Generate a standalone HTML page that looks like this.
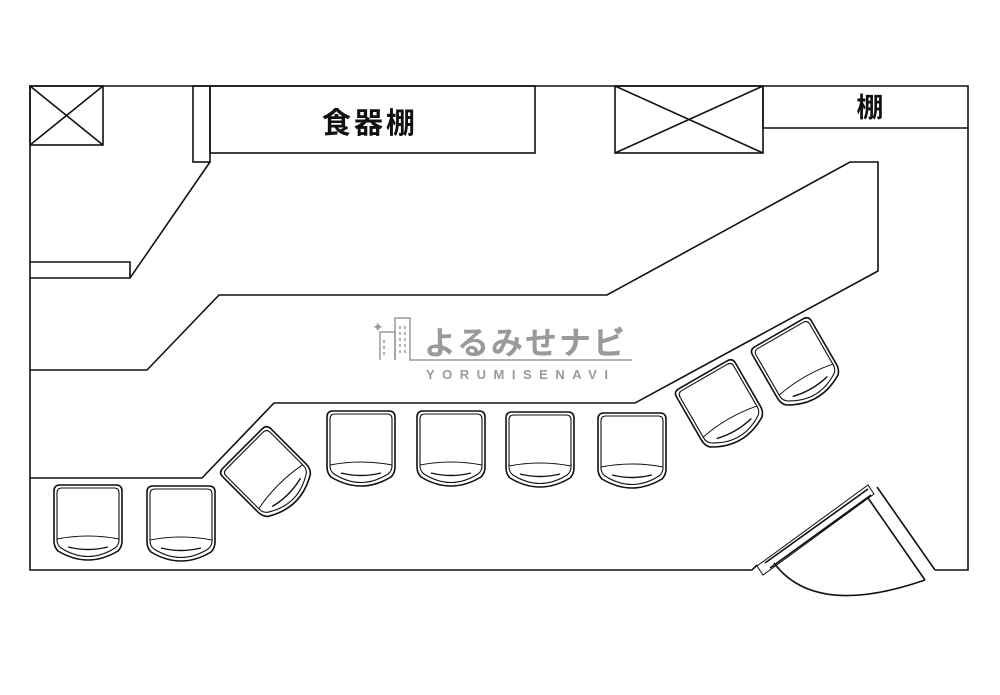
<!DOCTYPE html>
<html><head><meta charset="utf-8"><style>
html,body{margin:0;padding:0;background:#fff;}
svg{display:block;}
</style></head><body>
<svg width="1000" height="695" viewBox="0 0 1000 695" xmlns="http://www.w3.org/2000/svg">
<defs>
<g id="chair" fill="none" stroke="#111">
<path stroke-width="1.6" d="M-28,-36 H28 Q34,-36 34,-30 V20 Q34,26 30,30 Q0,48 -30,30 Q-34,26 -34,20 V-30 Q-34,-36 -28,-36 Z"/>
<path stroke-width="1.1" d="M-26,-33 H26 Q31,-33 31,-28 V19 Q31,24 27,27 Q0,44 -27,27 Q-31,24 -31,19 V-28 Q-31,-33 -26,-33 Z"/>
<path stroke-width="1" d="M-31,18 Q0,12 31,18"/>
<path stroke-width="1.4" d="M-20,26 Q0,31 20,26"/>
</g>
</defs>
<g fill="none" stroke="#111" stroke-width="1.6">
<polyline points="752,570 30,570 30,86 968,86 968,570 935,570"/>
<rect x="30" y="86" width="73" height="59"/>
<line x1="30" y1="86" x2="103" y2="145"/><line x1="103" y1="86" x2="30" y2="145"/>
<rect x="193" y="86" width="17" height="76"/>
<rect x="210" y="86" width="325" height="67"/>
<polyline points="210,162 130,278 30,278"/>
<polyline points="30,262 130,262 130,278"/>
<rect x="615" y="86" width="148" height="67"/>
<line x1="615" y1="86" x2="763" y2="153"/><line x1="763" y1="86" x2="615" y2="153"/>
<polyline points="763,86 763,128 968,128"/>
<polyline points="30,370 147,370 219,295 607,295 850,162 878,162 878,271 635,403 274,403 202,478 30,478"/>
<polyline points="752,570 757,565"/>
<polygon points="757,566 763,575 874,494 868,485" stroke-width="1"/>
<line x1="765" y1="563" x2="868" y2="489"/>
<line x1="770" y1="568" x2="871" y2="495"/>
<line x1="877" y1="487" x2="935" y2="570"/>
<line x1="868" y1="498" x2="925" y2="580"/>
<path d="M774,563 Q815,618 925,580"/>
</g>
<text x="370" y="133" font-family="'Liberation Sans','Noto Sans CJK JP',sans-serif" font-size="29" font-weight="bold" text-anchor="middle" fill="#111" letter-spacing="3">食器棚</text>
<text x="870" y="117" font-family="'Liberation Sans','Noto Sans CJK JP',sans-serif" font-size="27" font-weight="bold" text-anchor="middle" fill="#111">棚</text>
<use href="#chair" transform="translate(88,521)"/>
<use href="#chair" transform="translate(181,522)"/>
<use href="#chair" transform="translate(268,474) rotate(-45)"/>
<use href="#chair" transform="translate(361,447)"/>
<use href="#chair" transform="translate(451,447)"/>
<use href="#chair" transform="translate(540,448)"/>
<use href="#chair" transform="translate(632,449)"/>
<use href="#chair" transform="translate(721,406) rotate(-30)"/>
<use href="#chair" transform="translate(797,364) rotate(-30)"/>
<g fill="none" stroke="#9a9a9a" stroke-width="1.5">
<polyline points="380,360 380,332 395,332 395,360"/>
<polyline points="395,360 395,318 410,318 410,360 632,360"/>
<line x1="384" y1="340" x2="384" y2="355" stroke-dasharray="3,3"/>
<line x1="400" y1="326" x2="400" y2="356" stroke-dasharray="3,3"/>
<line x1="405" y1="326" x2="405" y2="356" stroke-dasharray="3,3"/>
</g>
<text x="372" y="332" font-family="'DejaVu Sans',sans-serif" font-size="14" fill="#9a9a9a">✦</text>
<text x="613" y="336" font-family="'DejaVu Sans',sans-serif" font-size="14" fill="#9a9a9a">✦</text>
<text x="424" y="354" font-family="'Liberation Sans','Noto Sans CJK JP',sans-serif" font-size="32" font-weight="bold" fill="#9a9a9a" letter-spacing="2">よるみせナビ</text>
<text x="426" y="379" font-family="'Liberation Sans',sans-serif" font-size="13" font-weight="bold" fill="#9a9a9a" letter-spacing="7.5">YORUMISENAVI</text>
</svg>
</body></html>
